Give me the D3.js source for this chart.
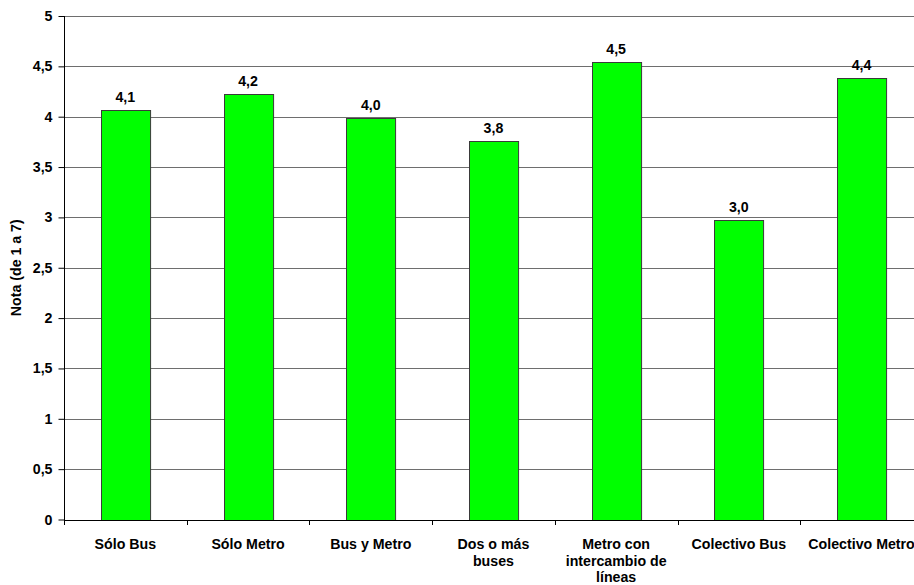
<!DOCTYPE html>
<html>
<head>
<meta charset="utf-8">
<script src="https://cdn.jsdelivr.net/npm/d3@7"></script>
<style>
  html, body { margin: 0; padding: 0; background: #fff; }
  svg { display: block; }
  text { font-family: "Liberation Sans", Arial, sans-serif; font-weight: bold; fill: #000; }
</style>
</head>
<body>
<svg id="chart" width="914" height="585"></svg>
<script>
// Rating per travel mode (scale 1 to 7)
const categories = [
  ["Sólo Bus"],
  ["Sólo Metro"],
  ["Bus y Metro"],
  ["Dos o más", "buses"],
  ["Metro con", "intercambio de", "líneas"],
  ["Colectivo Bus"],
  ["Colectivo Metro"]
];
const notas = [4.07, 4.23, 3.99, 3.76, 4.54, 2.97, 4.38];
const yTicks = [0, 0.5, 1, 1.5, 2, 2.5, 3, 3.5, 4, 4.5, 5];
const yTitle = "Nota (de 1 a 7)";

const svg = d3.select("#chart");
const plotLeft = 64, plotTop = 16, plotBottom = 519.5, step = 122.7;
const plotRight = plotLeft + step * categories.length;
const fontSize = "14.2px";

const locale = d3.formatLocale({ decimal: ",", thousands: ".", grouping: [3], currency: ["$", ""] });
const fmtVal = locale.format(".1f");
const fmtTick = v => String(v).replace(".", ",");

const x = d3.scaleBand()
  .domain(d3.range(categories.length))
  .range([plotLeft, plotRight])
  .paddingInner(0.6)
  .paddingOuter(0.3);

const y = d3.scaleLinear().domain([0, 5]).range([plotBottom, plotTop]);

// horizontal gridlines
svg.append("g")
  .selectAll("line")
  .data(yTicks.filter(t => t > 0))
  .join("line")
  .attr("x1", plotLeft).attr("x2", plotRight)
  .attr("y1", d => Math.round(y(d)) + 0.5)
  .attr("y2", d => Math.round(y(d)) + 0.5)
  .attr("stroke", "#6e6e6e")
  .attr("stroke-width", 1);

// bars
svg.append("g")
  .selectAll("rect")
  .data(notas)
  .join("rect")
  .attr("x", (d, i) => Math.round(x(i)) + 0.5)
  .attr("y", d => Math.round(y(d)) + 0.5)
  .attr("width", x.bandwidth())
  .attr("height", d => Math.round(y(0)) - Math.round(y(d)))
  .attr("fill", "#00ff00")
  .attr("stroke", "#3a3a3a")
  .attr("stroke-width", 1);

// value labels
svg.append("g")
  .selectAll("text")
  .data(notas)
  .join("text")
  .attr("x", (d, i) => x(i) + x.bandwidth() / 2)
  .attr("y", d => y(d) - 8)
  .attr("text-anchor", "middle")
  .style("font-size", fontSize)
  .text(d => fmtVal(d));

// y axis
const yAxis = d3.axisLeft(y)
  .tickValues(yTicks)
  .tickSize(6)
  .tickPadding(6)
  .tickFormat(fmtTick);
const gy = svg.append("g")
  .attr("transform", `translate(${plotLeft + 0.5},0)`)
  .call(yAxis);
gy.select(".domain").attr("d", `M0,${plotTop}V${plotBottom + 5}`).attr("stroke", "#000");
gy.selectAll(".tick line").attr("stroke", "#000");
gy.selectAll(".tick text")
  .style("font-size", fontSize)
  .style("font-family", '"Liberation Sans", Arial, sans-serif')
  .style("font-weight", "bold");

// x axis baseline and category separators
const gx = svg.append("g");
gx.append("line")
  .attr("x1", plotLeft).attr("x2", plotRight)
  .attr("y1", Math.round(plotBottom) + 0.5).attr("y2", Math.round(plotBottom) + 0.5)
  .attr("stroke", "#000");
gx.selectAll("line.sep")
  .data(d3.range(categories.length + 1))
  .join("line")
  .attr("class", "sep")
  .attr("x1", i => Math.round(plotLeft + i * step) + 0.5)
  .attr("x2", i => Math.round(plotLeft + i * step) + 0.5)
  .attr("y1", Math.round(plotBottom))
  .attr("y2", Math.round(plotBottom) + 5)
  .attr("stroke", "#000");

// category labels (multi-line)
const lab = gx.selectAll("text.cat")
  .data(categories)
  .join("text")
  .attr("class", "cat")
  .attr("text-anchor", "middle")
  .attr("y", 549)
  .style("font-size", fontSize);
lab.selectAll("tspan")
  .data((d, i) => d.map(s => ({ s, i })))
  .join("tspan")
  .attr("x", d => x(d.i) + x.bandwidth() / 2)
  .attr("dy", (d, k) => k === 0 ? 0 : 16.5)
  .text(d => d.s);

// y axis title
svg.append("text")
  .attr("transform", `translate(21,${(plotTop + plotBottom) / 2}) rotate(-90)`)
  .attr("text-anchor", "middle")
  .style("font-size", "14.2px")
  .text(yTitle);
</script>
</body>
</html>
